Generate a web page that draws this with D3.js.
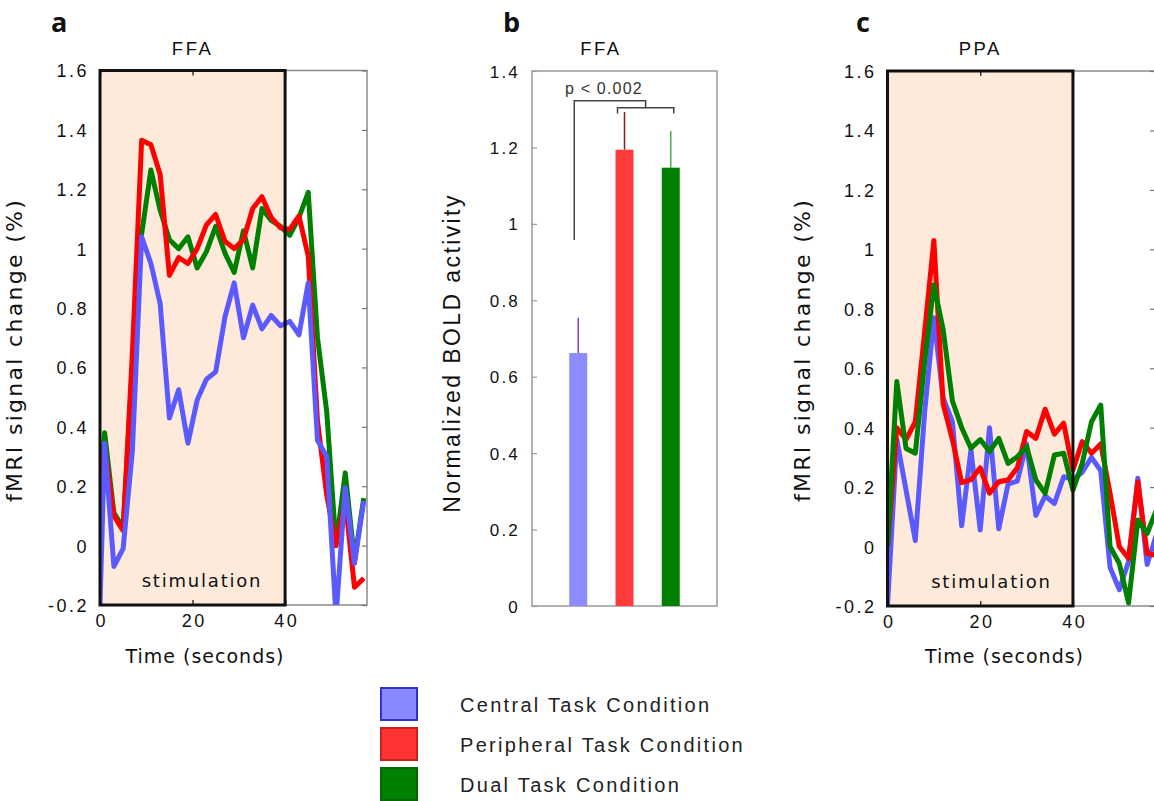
<!DOCTYPE html>
<html><head><meta charset="utf-8">
<script src="https://cdn.jsdelivr.net/npm/d3@7"></script>
<style>body{margin:0;background:#fff} svg{display:block}</style>
</head><body><svg id="chart" width="1154" height="801"></svg>
<script>
// ---------- DATA ----------
const timesFFA = [0, 1, 3, 5, 7, 9, 11, 13, 15, 17, 19, 21, 23, 25, 27, 29, 31, 33, 35, 37, 39, 41, 43, 45, 47, 49, 51, 53, 55, 57];
const ffaCentral    = [-0.2, 0.345, -0.07, -0.01, 0.32, 1.04, 0.95, 0.815, 0.43, 0.525, 0.345, 0.49, 0.56, 0.585, 0.77, 0.885, 0.70, 0.81, 0.73, 0.775, 0.74, 0.755, 0.71, 0.885, 0.355, 0.30, -0.24, 0.195, -0.06, 0.15];
const ffaPeripheral = [0.15, 0.33, 0.10, 0.05, 0.65, 1.365, 1.35, 1.25, 0.91, 0.97, 0.95, 1.0, 1.08, 1.115, 1.025, 1.0, 1.03, 1.135, 1.175, 1.105, 1.07, 1.065, 1.11, 0.975, 0.42, 0.17, 0.0, 0.15, -0.14, -0.11];
const ffaDual       = [0.2, 0.38, 0.11, 0.06, 0.6, 1.05, 1.265, 1.13, 1.03, 1.0, 1.04, 0.935, 0.99, 1.075, 0.985, 0.92, 1.06, 0.935, 1.135, 1.095, 1.075, 1.045, 1.105, 1.19, 0.70, 0.45, 0.0, 0.245, -0.05, 0.16];

const timesPPA = [0, 2, 4, 6, 8, 10, 12, 14, 16, 18, 20, 22, 24, 26, 28, 30, 32, 34, 36, 38, 40, 42, 44, 46, 48, 50, 52, 54, 56, 58];
const ppaCentral    = [-0.2, 0.36, 0.19, 0.02, 0.45, 0.77, 0.5, 0.42, 0.07, 0.325, 0.056, 0.40, 0.06, 0.21, 0.22, 0.345, 0.105, 0.17, 0.145, 0.235, 0.225, 0.25, 0.30, 0.255, -0.07, -0.145, -0.05, 0.23, -0.06, 0.04];
const ppaPeripheral = [0.0, 0.40, 0.36, 0.42, 0.72, 1.03, 0.48, 0.36, 0.215, 0.225, 0.265, 0.18, 0.218, 0.224, 0.265, 0.387, 0.364, 0.462, 0.378, 0.415, 0.258, 0.353, 0.314, 0.345, 0.18, 0.0, -0.04, 0.218, -0.023, -0.03];
const ppaDual       = [0.0, 0.555, 0.33, 0.314, 0.62, 0.88, 0.73, 0.49, 0.40, 0.331, 0.36, 0.32, 0.364, 0.28, 0.302, 0.336, 0.224, 0.179, 0.308, 0.314, 0.19, 0.28, 0.42, 0.476, 0.0, -0.057, -0.19, 0.089, 0.044, 0.123];

const timeTicks = [0, 20, 40];
const signalTicks = [-0.2, 0, 0.2, 0.4, 0.6, 0.8, 1, 1.2, 1.4, 1.6];
const stimulation = [0, 40];

const conditions = ["Central Task Condition", "Peripheral Task Condition", "Dual Task Condition"];
const barValues = [0.662, 1.194, 1.147];
const barErrors = [0.092, 0.099, 0.096];
const boldTicks = [0, 0.2, 0.4, 0.6, 0.8, 1, 1.2, 1.4];
const pLabel = "p < 0.002";

// ---------- STYLE ----------
const lineColors = ["#5a5aff", "#ff0000", "#008000"];
const barColors = ["#8c8cff", "#ff3b3b", "#008000"];
const errColors = ["#8a3ccf", "#8b1a1a", "#4fae4f"];
const legendFill = ["#8888ff", "#ff3333", "#008000"];
const legendStroke = ["#3333cc", "#cc2020", "#006a00"];
const ARIAL = "'Liberation Sans', Arial, sans-serif";
const VERD = "'DejaVu Sans', Verdana, sans-serif";
const fmt = d => d === 0 ? "0" : String(+d.toFixed(1));

const svg = d3.select("#chart");

function timecourse(o) {
  const x = d3.scaleLinear().domain([0, 57.7]).range([o.left, o.right]);
  const y = d3.scaleLinear().domain([-0.2, 1.6]).range([o.bottom, o.top]);
  const g = svg.append("g");
  const W = o.right - o.left, H = o.bottom - o.top;

  g.append("rect").attr("x", o.left).attr("y", o.top).attr("width", W).attr("height", H)
    .attr("fill", "#fff").attr("stroke", "#8a8a8a").attr("stroke-width", 1.5);
  g.append("rect").attr("x", x(stimulation[0])).attr("y", y(1.6))
    .attr("width", x(stimulation[1]) - x(stimulation[0])).attr("height", y(-0.2) - y(1.6))
    .attr("fill", "#fdeadb");

  // right axis ticks (inward)
  const ra = g.append("g").attr("transform", `translate(${o.right},0)`)
    .call(d3.axisLeft(y).tickValues(signalTicks).tickSize(5).tickFormat(""));
  ra.select(".domain").remove();
  ra.selectAll("line").attr("stroke", "#777").attr("stroke-width", 1.2);
  // top / bottom ticks
  const ba = g.append("g").attr("transform", `translate(0,${o.bottom})`)
    .call(d3.axisTop(x).tickValues(timeTicks).tickSize(5).tickFormat(""));
  ba.select(".domain").remove();
  ba.selectAll("line").attr("stroke", "#333").attr("stroke-width", 1.5);
  const ta = g.append("g").attr("transform", `translate(0,${o.top})`)
    .call(d3.axisBottom(x).tickValues(timeTicks).tickSize(5).tickFormat(""));
  ta.select(".domain").remove();
  ta.selectAll("line").attr("stroke", "#333").attr("stroke-width", 1.5);

  // left tick labels
  const la = g.append("g").attr("transform", `translate(${o.left},0)`)
    .call(d3.axisLeft(y).tickValues(signalTicks).tickSize(0).tickPadding(11).tickFormat(fmt));
  la.select(".domain").remove();
  la.selectAll("text").attr("font-family", ARIAL).attr("font-size", 18).attr("fill", "#111")
    .attr("letter-spacing", 2.5).attr("dy", "0.36em");
  // bottom tick labels
  const xa = g.append("g").attr("transform", `translate(0,${o.bottom})`)
    .call(d3.axisBottom(x).tickValues(timeTicks).tickSize(0).tickPadding(9).tickFormat(d3.format("d")));
  xa.select(".domain").remove();
  xa.selectAll("text").attr("font-family", ARIAL).attr("font-size", 18).attr("fill", "#111")
    .attr("letter-spacing", 2.5).attr("dx", "0.07em");

  g.append("text").attr("x", o.left + o.stimOffset).attr("y", o.bottom - 18).attr("text-anchor", "middle")
    .attr("font-family", VERD).attr("font-size", 18).attr("letter-spacing", 1.8).attr("fill", "#111")
    .text("stimulation");

  // lines
  const clipId = "clip" + o.id;
  svg.append("clipPath").attr("id", clipId).append("rect")
    .attr("x", o.left).attr("y", o.top).attr("width", W).attr("height", H);
  const lg = g.append("g").attr("clip-path", `url(#${clipId})`);
  const line = d3.line().x((d, i) => x(o.times[i])).y(d => y(d));
  o.order.forEach(k => {
    lg.append("path").datum(o.series[k]).attr("d", line).attr("fill", "none")
      .attr("stroke", lineColors[k]).attr("stroke-width", 5).attr("stroke-linejoin", "round");
  });

  // stimulation border on top
  g.append("rect").attr("x", x(stimulation[0])).attr("y", y(1.6))
    .attr("width", x(stimulation[1]) - x(stimulation[0])).attr("height", y(-0.2) - y(1.6))
    .attr("fill", "none").attr("stroke", "#111").attr("stroke-width", 3);

  // titles
  g.append("text").attr("x", x(20)).attr("y", 55).attr("text-anchor", "middle")
    .attr("font-family", ARIAL).attr("font-size", 18.5).attr("letter-spacing", 2.5).attr("fill", "#111").text(o.title);
  g.append("text").attr("x", o.letterX).attr("y", 32).attr("font-family", "'Open Sans', sans-serif")
    .attr("font-weight", 700).attr("font-size", 27).attr("fill", "#111").text(o.letter);
  g.append("text").attr("transform", `translate(${o.left - 78},350) rotate(-90)`).attr("text-anchor", "middle")
    .attr("font-family", VERD).attr("font-size", 22).attr("letter-spacing", 2.3).attr("fill", "#111")
    .text("fMRI signal change (%)");
  g.append("text").attr("x", o.left + o.timeOffset).attr("y", 663).attr("text-anchor", "middle")
    .attr("font-family", VERD).attr("font-size", 19).attr("letter-spacing", 1).attr("fill", "#111")
    .text("Time (seconds)");
}

timecourse({id: "a", left: 100, right: 367, top: 70.5, bottom: 605, times: timesFFA,
  series: [ffaCentral, ffaPeripheral, ffaDual], order: [2, 1, 0], title: "FFA", letter: "a",
  letterX: 51, stimOffset: 102, timeOffset: 105});
timecourse({id: "c", left: 887.5, right: 1155, top: 71, bottom: 606, times: timesPPA,
  series: [ppaCentral, ppaPeripheral, ppaDual], order: [0, 1, 2], title: "PPA", letter: "c",
  letterX: 856, stimOffset: 104, timeOffset: 117});

// ---------- PANEL B ----------
(function () {
  const left = 532, right = 717, top = 71, bottom = 606;
  const x = d3.scalePoint().domain(conditions).range([left, right]).padding(1);
  const y = d3.scaleLinear().domain([0, 1.4]).range([bottom, top]);
  const g = svg.append("g");
  g.append("rect").attr("x", left).attr("y", top).attr("width", right - left).attr("height", bottom - top)
    .attr("fill", "none").attr("stroke", "#999").attr("stroke-width", 1.5);
  const ax = g.append("g").attr("transform", `translate(${left},0)`)
    .call(d3.axisRight(y).tickValues(boldTicks).tickSize(5).tickFormat(""));
  ax.select(".domain").remove();
  ax.selectAll("line").attr("stroke", "#999").attr("stroke-width", 1.2);
  const al = g.append("g").attr("transform", `translate(${left},0)`)
    .call(d3.axisLeft(y).tickValues(boldTicks).tickSize(0).tickPadding(12).tickFormat(fmt));
  al.select(".domain").remove();
  al.selectAll("text").attr("font-family", ARIAL).attr("font-size", 17).attr("letter-spacing", 2.2)
    .attr("fill", "#111").attr("dy", "0.36em");

  const bw = 18;
  g.selectAll(".err").data(conditions).join("line")
    .attr("x1", d => x(d)).attr("x2", d => x(d))
    .attr("y1", (d, i) => y(barValues[i])).attr("y2", (d, i) => y(barValues[i] + barErrors[i]))
    .attr("stroke", (d, i) => errColors[i]).attr("stroke-width", 1.5);
  g.selectAll(".bar").data(conditions).join("rect")
    .attr("x", d => x(d) - bw / 2).attr("width", bw)
    .attr("y", (d, i) => y(barValues[i])).attr("height", (d, i) => bottom - y(barValues[i]))
    .attr("fill", (d, i) => barColors[i]);

  // significance bracket
  const step = x.step();
  const xL = x(conditions[0]) - 4;
  const xA = x(conditions[1]) - 7, xB = x(conditions[2]) + 3, xM = (xA + xB) / 2;
  const br = d3.path();
  br.moveTo(xL, y(0.958)); br.lineTo(xL, y(1.322)); br.lineTo(xM, y(1.322)); br.lineTo(xM, y(1.304));
  br.moveTo(xA, y(1.289)); br.lineTo(xA, y(1.304)); br.lineTo(xB, y(1.304)); br.lineTo(xB, y(1.289));
  g.append("path").attr("d", br.toString()).attr("fill", "none").attr("stroke", "#444").attr("stroke-width", 1.5);
  g.append("text").attr("x", (xL + xM) / 2 - 6).attr("y", 94).attr("text-anchor", "middle")
    .attr("font-family", ARIAL).attr("font-size", 16).attr("letter-spacing", 1.2).attr("fill", "#333").text(pLabel);

  g.append("text").attr("x", 601).attr("y", 55).attr("text-anchor", "middle")
    .attr("font-family", ARIAL).attr("font-size", 18.5).attr("letter-spacing", 2.5).attr("fill", "#111").text("FFA");
  g.append("text").attr("x", 503).attr("y", 32).attr("font-family", "'Open Sans', sans-serif")
    .attr("font-weight", 700).attr("font-size", 27).attr("fill", "#111").text("b");
  g.append("text").attr("transform", `translate(460,353) rotate(-90)`).attr("text-anchor", "middle")
    .attr("font-family", ARIAL).attr("font-size", 23).attr("letter-spacing", 2.4).attr("fill", "#111")
    .text("Normalized BOLD activity");
})();

// ---------- LEGEND ----------
const leg = svg.append("g");
const legY = d3.scalePoint().domain(conditions).range([704, 784]);
leg.selectAll("rect").data(conditions).join("rect")
  .attr("x", 381).attr("y", d => legY(d) - 16).attr("width", 36).attr("height", 32)
  .attr("fill", (d, i) => legendFill[i]).attr("stroke", (d, i) => legendStroke[i]).attr("stroke-width", 2);
leg.selectAll("text").data(conditions).join("text")
  .attr("x", 460).attr("y", d => legY(d) + 8)
  .attr("font-family", ARIAL).attr("font-size", 20).attr("letter-spacing", 2.3).attr("fill", "#222")
  .text(d => d);
</script></body></html>
